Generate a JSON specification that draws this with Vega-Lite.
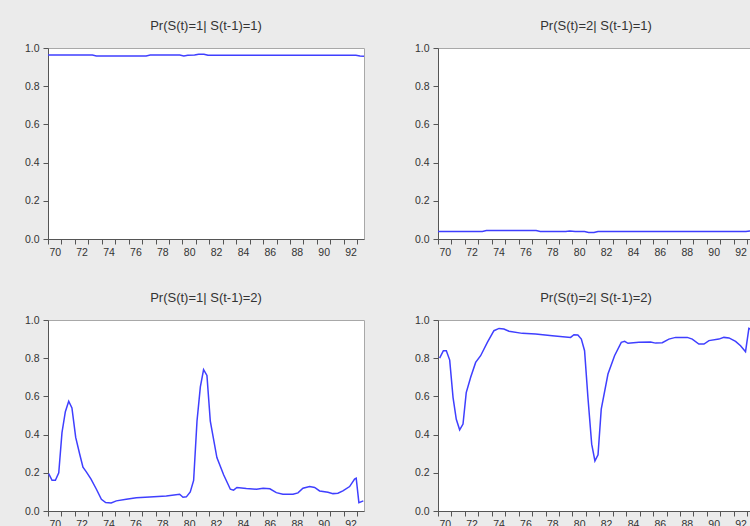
{
  "$schema": "https://vega.github.io/schema/vega-lite/v6.json",
  "background": "#ebebeb",
  "padding": {"left": 23, "top": 19, "right": 0, "bottom": 0},
  "data": {"values": [
    {"panel": "Pr(S(t)=1| S(t-1)=1)", "t": 1970.0, "p": 0.963},
    {"panel": "Pr(S(t)=1| S(t-1)=1)", "t": 1971.5, "p": 0.963},
    {"panel": "Pr(S(t)=1| S(t-1)=1)", "t": 1973.3, "p": 0.963},
    {"panel": "Pr(S(t)=1| S(t-1)=1)", "t": 1973.6, "p": 0.958},
    {"panel": "Pr(S(t)=1| S(t-1)=1)", "t": 1975.5, "p": 0.958},
    {"panel": "Pr(S(t)=1| S(t-1)=1)", "t": 1977.3, "p": 0.958},
    {"panel": "Pr(S(t)=1| S(t-1)=1)", "t": 1977.6, "p": 0.963},
    {"panel": "Pr(S(t)=1| S(t-1)=1)", "t": 1979.8, "p": 0.963},
    {"panel": "Pr(S(t)=1| S(t-1)=1)", "t": 1980.1, "p": 0.958},
    {"panel": "Pr(S(t)=1| S(t-1)=1)", "t": 1980.4, "p": 0.962},
    {"panel": "Pr(S(t)=1| S(t-1)=1)", "t": 1980.9, "p": 0.963},
    {"panel": "Pr(S(t)=1| S(t-1)=1)", "t": 1981.2, "p": 0.967},
    {"panel": "Pr(S(t)=1| S(t-1)=1)", "t": 1981.6, "p": 0.967},
    {"panel": "Pr(S(t)=1| S(t-1)=1)", "t": 1981.9, "p": 0.962},
    {"panel": "Pr(S(t)=1| S(t-1)=1)", "t": 1986.0, "p": 0.962},
    {"panel": "Pr(S(t)=1| S(t-1)=1)", "t": 1990.0, "p": 0.962},
    {"panel": "Pr(S(t)=1| S(t-1)=1)", "t": 1992.9, "p": 0.962},
    {"panel": "Pr(S(t)=1| S(t-1)=1)", "t": 1993.2, "p": 0.958},
    {"panel": "Pr(S(t)=1| S(t-1)=1)", "t": 1993.5, "p": 0.957},

    {"panel": "Pr(S(t)=2| S(t-1)=1)", "t": 1970.0, "p": 0.039},
    {"panel": "Pr(S(t)=2| S(t-1)=1)", "t": 1971.5, "p": 0.039},
    {"panel": "Pr(S(t)=2| S(t-1)=1)", "t": 1973.3, "p": 0.039},
    {"panel": "Pr(S(t)=2| S(t-1)=1)", "t": 1973.6, "p": 0.044},
    {"panel": "Pr(S(t)=2| S(t-1)=1)", "t": 1975.5, "p": 0.044},
    {"panel": "Pr(S(t)=2| S(t-1)=1)", "t": 1977.3, "p": 0.044},
    {"panel": "Pr(S(t)=2| S(t-1)=1)", "t": 1977.6, "p": 0.039},
    {"panel": "Pr(S(t)=2| S(t-1)=1)", "t": 1979.5, "p": 0.039},
    {"panel": "Pr(S(t)=2| S(t-1)=1)", "t": 1979.8, "p": 0.042},
    {"panel": "Pr(S(t)=2| S(t-1)=1)", "t": 1980.2, "p": 0.039},
    {"panel": "Pr(S(t)=2| S(t-1)=1)", "t": 1980.9, "p": 0.039},
    {"panel": "Pr(S(t)=2| S(t-1)=1)", "t": 1981.2, "p": 0.034},
    {"panel": "Pr(S(t)=2| S(t-1)=1)", "t": 1981.6, "p": 0.034},
    {"panel": "Pr(S(t)=2| S(t-1)=1)", "t": 1981.9, "p": 0.039},
    {"panel": "Pr(S(t)=2| S(t-1)=1)", "t": 1986.0, "p": 0.039},
    {"panel": "Pr(S(t)=2| S(t-1)=1)", "t": 1990.0, "p": 0.039},
    {"panel": "Pr(S(t)=2| S(t-1)=1)", "t": 1992.9, "p": 0.039},
    {"panel": "Pr(S(t)=2| S(t-1)=1)", "t": 1993.2, "p": 0.042},
    {"panel": "Pr(S(t)=2| S(t-1)=1)", "t": 1993.5, "p": 0.043},

    {"panel": "Pr(S(t)=1| S(t-1)=2)", "t": 1970.05, "p": 0.196},
    {"panel": "Pr(S(t)=1| S(t-1)=2)", "t": 1970.3, "p": 0.161},
    {"panel": "Pr(S(t)=1| S(t-1)=2)", "t": 1970.55, "p": 0.161},
    {"panel": "Pr(S(t)=1| S(t-1)=2)", "t": 1970.8, "p": 0.2},
    {"panel": "Pr(S(t)=1| S(t-1)=2)", "t": 1971.04, "p": 0.41},
    {"panel": "Pr(S(t)=1| S(t-1)=2)", "t": 1971.29, "p": 0.52},
    {"panel": "Pr(S(t)=1| S(t-1)=2)", "t": 1971.54, "p": 0.575},
    {"panel": "Pr(S(t)=1| S(t-1)=2)", "t": 1971.78, "p": 0.54},
    {"panel": "Pr(S(t)=1| S(t-1)=2)", "t": 1972.06, "p": 0.385},
    {"panel": "Pr(S(t)=1| S(t-1)=2)", "t": 1972.35, "p": 0.3},
    {"panel": "Pr(S(t)=1| S(t-1)=2)", "t": 1972.6, "p": 0.23},
    {"panel": "Pr(S(t)=1| S(t-1)=2)", "t": 1972.85, "p": 0.205},
    {"panel": "Pr(S(t)=1| S(t-1)=2)", "t": 1973.2, "p": 0.167},
    {"panel": "Pr(S(t)=1| S(t-1)=2)", "t": 1973.6, "p": 0.114},
    {"panel": "Pr(S(t)=1| S(t-1)=2)", "t": 1973.97, "p": 0.061},
    {"panel": "Pr(S(t)=1| S(t-1)=2)", "t": 1974.29, "p": 0.044},
    {"panel": "Pr(S(t)=1| S(t-1)=2)", "t": 1974.7, "p": 0.042},
    {"panel": "Pr(S(t)=1| S(t-1)=2)", "t": 1975.08, "p": 0.053},
    {"panel": "Pr(S(t)=1| S(t-1)=2)", "t": 1975.82, "p": 0.061},
    {"panel": "Pr(S(t)=1| S(t-1)=2)", "t": 1976.57, "p": 0.069},
    {"panel": "Pr(S(t)=1| S(t-1)=2)", "t": 1977.56, "p": 0.073},
    {"panel": "Pr(S(t)=1| S(t-1)=2)", "t": 1978.8, "p": 0.079},
    {"panel": "Pr(S(t)=1| S(t-1)=2)", "t": 1979.79, "p": 0.088},
    {"panel": "Pr(S(t)=1| S(t-1)=2)", "t": 1980.04, "p": 0.072},
    {"panel": "Pr(S(t)=1| S(t-1)=2)", "t": 1980.29, "p": 0.074},
    {"panel": "Pr(S(t)=1| S(t-1)=2)", "t": 1980.58, "p": 0.1},
    {"panel": "Pr(S(t)=1| S(t-1)=2)", "t": 1980.83, "p": 0.16},
    {"panel": "Pr(S(t)=1| S(t-1)=2)", "t": 1981.08, "p": 0.47},
    {"panel": "Pr(S(t)=1| S(t-1)=2)", "t": 1981.33, "p": 0.65},
    {"panel": "Pr(S(t)=1| S(t-1)=2)", "t": 1981.57, "p": 0.74},
    {"panel": "Pr(S(t)=1| S(t-1)=2)", "t": 1981.82, "p": 0.71},
    {"panel": "Pr(S(t)=1| S(t-1)=2)", "t": 1982.07, "p": 0.47},
    {"panel": "Pr(S(t)=1| S(t-1)=2)", "t": 1982.56, "p": 0.28},
    {"panel": "Pr(S(t)=1| S(t-1)=2)", "t": 1983.06, "p": 0.19},
    {"panel": "Pr(S(t)=1| S(t-1)=2)", "t": 1983.56, "p": 0.114},
    {"panel": "Pr(S(t)=1| S(t-1)=2)", "t": 1983.8, "p": 0.109},
    {"panel": "Pr(S(t)=1| S(t-1)=2)", "t": 1984.05, "p": 0.123},
    {"panel": "Pr(S(t)=1| S(t-1)=2)", "t": 1984.75, "p": 0.118},
    {"panel": "Pr(S(t)=1| S(t-1)=2)", "t": 1985.5, "p": 0.114},
    {"panel": "Pr(S(t)=1| S(t-1)=2)", "t": 1986.0, "p": 0.119},
    {"panel": "Pr(S(t)=1| S(t-1)=2)", "t": 1986.5, "p": 0.116},
    {"panel": "Pr(S(t)=1| S(t-1)=2)", "t": 1986.98, "p": 0.096},
    {"panel": "Pr(S(t)=1| S(t-1)=2)", "t": 1987.47, "p": 0.088},
    {"panel": "Pr(S(t)=1| S(t-1)=2)", "t": 1988.22, "p": 0.088},
    {"panel": "Pr(S(t)=1| S(t-1)=2)", "t": 1988.59, "p": 0.095},
    {"panel": "Pr(S(t)=1| S(t-1)=2)", "t": 1988.96, "p": 0.119},
    {"panel": "Pr(S(t)=1| S(t-1)=2)", "t": 1989.46, "p": 0.128},
    {"panel": "Pr(S(t)=1| S(t-1)=2)", "t": 1989.83, "p": 0.123},
    {"panel": "Pr(S(t)=1| S(t-1)=2)", "t": 1990.2, "p": 0.105},
    {"panel": "Pr(S(t)=1| S(t-1)=2)", "t": 1990.82, "p": 0.098},
    {"panel": "Pr(S(t)=1| S(t-1)=2)", "t": 1991.19, "p": 0.091},
    {"panel": "Pr(S(t)=1| S(t-1)=2)", "t": 1991.56, "p": 0.093},
    {"panel": "Pr(S(t)=1| S(t-1)=2)", "t": 1991.93, "p": 0.105},
    {"panel": "Pr(S(t)=1| S(t-1)=2)", "t": 1992.43, "p": 0.128},
    {"panel": "Pr(S(t)=1| S(t-1)=2)", "t": 1992.8, "p": 0.167},
    {"panel": "Pr(S(t)=1| S(t-1)=2)", "t": 1992.92, "p": 0.172},
    {"panel": "Pr(S(t)=1| S(t-1)=2)", "t": 1993.12, "p": 0.044},
    {"panel": "Pr(S(t)=1| S(t-1)=2)", "t": 1993.45, "p": 0.053},

    {"panel": "Pr(S(t)=2| S(t-1)=2)", "t": 1970.12, "p": 0.8},
    {"panel": "Pr(S(t)=2| S(t-1)=2)", "t": 1970.4, "p": 0.839},
    {"panel": "Pr(S(t)=2| S(t-1)=2)", "t": 1970.62, "p": 0.839},
    {"panel": "Pr(S(t)=2| S(t-1)=2)", "t": 1970.87, "p": 0.79},
    {"panel": "Pr(S(t)=2| S(t-1)=2)", "t": 1971.12, "p": 0.594},
    {"panel": "Pr(S(t)=2| S(t-1)=2)", "t": 1971.36, "p": 0.48},
    {"panel": "Pr(S(t)=2| S(t-1)=2)", "t": 1971.61, "p": 0.425},
    {"panel": "Pr(S(t)=2| S(t-1)=2)", "t": 1971.86, "p": 0.455},
    {"panel": "Pr(S(t)=2| S(t-1)=2)", "t": 1972.1, "p": 0.62},
    {"panel": "Pr(S(t)=2| S(t-1)=2)", "t": 1972.43, "p": 0.7},
    {"panel": "Pr(S(t)=2| S(t-1)=2)", "t": 1972.8, "p": 0.778},
    {"panel": "Pr(S(t)=2| S(t-1)=2)", "t": 1973.17, "p": 0.813},
    {"panel": "Pr(S(t)=2| S(t-1)=2)", "t": 1973.67, "p": 0.883},
    {"panel": "Pr(S(t)=2| S(t-1)=2)", "t": 1974.16, "p": 0.944},
    {"panel": "Pr(S(t)=2| S(t-1)=2)", "t": 1974.54, "p": 0.956},
    {"panel": "Pr(S(t)=2| S(t-1)=2)", "t": 1974.9, "p": 0.953},
    {"panel": "Pr(S(t)=2| S(t-1)=2)", "t": 1975.28, "p": 0.941},
    {"panel": "Pr(S(t)=2| S(t-1)=2)", "t": 1976.27, "p": 0.93},
    {"panel": "Pr(S(t)=2| S(t-1)=2)", "t": 1977.26, "p": 0.927},
    {"panel": "Pr(S(t)=2| S(t-1)=2)", "t": 1978.5, "p": 0.918},
    {"panel": "Pr(S(t)=2| S(t-1)=2)", "t": 1979.86, "p": 0.909},
    {"panel": "Pr(S(t)=2| S(t-1)=2)", "t": 1980.11, "p": 0.923},
    {"panel": "Pr(S(t)=2| S(t-1)=2)", "t": 1980.4, "p": 0.921},
    {"panel": "Pr(S(t)=2| S(t-1)=2)", "t": 1980.66, "p": 0.9},
    {"panel": "Pr(S(t)=2| S(t-1)=2)", "t": 1980.9, "p": 0.839},
    {"panel": "Pr(S(t)=2| S(t-1)=2)", "t": 1981.15, "p": 0.594},
    {"panel": "Pr(S(t)=2| S(t-1)=2)", "t": 1981.43, "p": 0.35},
    {"panel": "Pr(S(t)=2| S(t-1)=2)", "t": 1981.67, "p": 0.262},
    {"panel": "Pr(S(t)=2| S(t-1)=2)", "t": 1981.9, "p": 0.294},
    {"panel": "Pr(S(t)=2| S(t-1)=2)", "t": 1982.14, "p": 0.533},
    {"panel": "Pr(S(t)=2| S(t-1)=2)", "t": 1982.64, "p": 0.717},
    {"panel": "Pr(S(t)=2| S(t-1)=2)", "t": 1983.13, "p": 0.813},
    {"panel": "Pr(S(t)=2| S(t-1)=2)", "t": 1983.63, "p": 0.883},
    {"panel": "Pr(S(t)=2| S(t-1)=2)", "t": 1983.88, "p": 0.888},
    {"panel": "Pr(S(t)=2| S(t-1)=2)", "t": 1984.13, "p": 0.878},
    {"panel": "Pr(S(t)=2| S(t-1)=2)", "t": 1984.94, "p": 0.883},
    {"panel": "Pr(S(t)=2| S(t-1)=2)", "t": 1985.81, "p": 0.885},
    {"panel": "Pr(S(t)=2| S(t-1)=2)", "t": 1986.18, "p": 0.879},
    {"panel": "Pr(S(t)=2| S(t-1)=2)", "t": 1986.68, "p": 0.881},
    {"panel": "Pr(S(t)=2| S(t-1)=2)", "t": 1987.17, "p": 0.9},
    {"panel": "Pr(S(t)=2| S(t-1)=2)", "t": 1987.67, "p": 0.909},
    {"panel": "Pr(S(t)=2| S(t-1)=2)", "t": 1988.54, "p": 0.909},
    {"panel": "Pr(S(t)=2| S(t-1)=2)", "t": 1988.91, "p": 0.9},
    {"panel": "Pr(S(t)=2| S(t-1)=2)", "t": 1989.4, "p": 0.874},
    {"panel": "Pr(S(t)=2| S(t-1)=2)", "t": 1989.78, "p": 0.874},
    {"panel": "Pr(S(t)=2| S(t-1)=2)", "t": 1990.15, "p": 0.892},
    {"panel": "Pr(S(t)=2| S(t-1)=2)", "t": 1990.89, "p": 0.9},
    {"panel": "Pr(S(t)=2| S(t-1)=2)", "t": 1991.26, "p": 0.909},
    {"panel": "Pr(S(t)=2| S(t-1)=2)", "t": 1991.64, "p": 0.906},
    {"panel": "Pr(S(t)=2| S(t-1)=2)", "t": 1992.13, "p": 0.888},
    {"panel": "Pr(S(t)=2| S(t-1)=2)", "t": 1992.5, "p": 0.865},
    {"panel": "Pr(S(t)=2| S(t-1)=2)", "t": 1992.87, "p": 0.834},
    {"panel": "Pr(S(t)=2| S(t-1)=2)", "t": 1993.12, "p": 0.956},
    {"panel": "Pr(S(t)=2| S(t-1)=2)", "t": 1993.45, "p": 0.947}
  ]},
  "facet": {
    "field": "panel",
    "type": "nominal",
    "sort": ["Pr(S(t)=1| S(t-1)=1)", "Pr(S(t)=2| S(t-1)=1)", "Pr(S(t)=1| S(t-1)=2)", "Pr(S(t)=2| S(t-1)=2)"],
    "header": {"title": null, "labelFontSize": 13, "labelFont": "Liberation Sans", "labelColor": "#333333", "labelPadding": 10}
  },
  "columns": 2,
  "spacing": {"row": 33, "column": 48},
  "resolve": {"axis": {"x": "independent", "y": "independent"}},
  "spec": {
    "width": 316,
    "height": 191,
    "mark": {"type": "line", "color": "#3f3fff", "strokeWidth": 1.5, "clip": true},
    "encoding": {
      "x": {
        "field": "t", "type": "quantitative",
        "scale": {"domain": [1970, 1993.5], "nice": false, "zero": false},
        "axis": {
          "title": null,
          "values": [1970, 1970.5, 1971, 1971.5, 1972, 1972.5, 1973, 1973.5, 1974, 1974.5, 1975, 1975.5, 1976, 1976.5, 1977, 1977.5, 1978, 1978.5, 1979, 1979.5, 1980, 1980.5, 1981, 1981.5, 1982, 1982.5, 1983, 1983.5, 1984, 1984.5, 1985, 1985.5, 1986, 1986.5, 1987, 1987.5, 1988, 1988.5, 1989, 1989.5, 1990, 1990.5, 1991, 1991.5, 1992, 1992.5, 1993],
          "labelExpr": "(datum.value % 1 == 0.5 && floor(datum.value) % 2 == 0) ? format(floor(datum.value) % 100, '02d') : ''",
          "tickOpacity": {"condition": {"test": "datum.value % 1 != 0", "value": 0}, "value": 1},
          "labelOverlap": false,
          "labelBound": false,
          "labelFlush": false,
          "tickSize": 5,
          "labelPadding": 3
        }
      },
      "y": {
        "field": "p", "type": "quantitative",
        "scale": {"domain": [0, 1], "nice": false},
        "axis": {"title": null, "values": [0, 0.2, 0.4, 0.6, 0.8, 1.0], "format": ".1f", "tickSize": 5, "labelPadding": 4}
      }
    }
  },
  "config": {
    "view": {"fill": "white", "stroke": "#a8a8a8", "strokeWidth": 1},
    "axis": {
      "grid": false,
      "domainColor": "#555555",
      "tickColor": "#555555",
      "labelColor": "#333333",
      "labelFont": "Liberation Sans",
      "labelFontSize": 10.5
    }
  }
}
